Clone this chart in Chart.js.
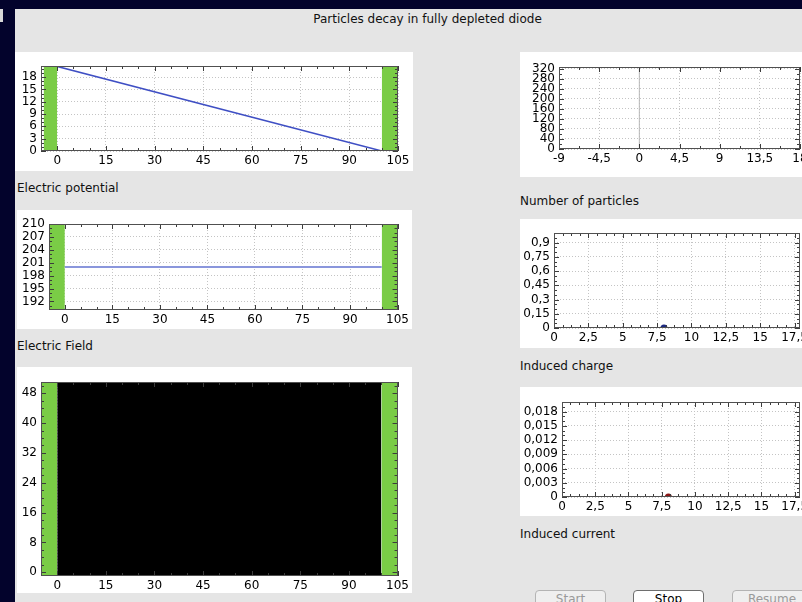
<!DOCTYPE html>
<html>
<head>
<meta charset="utf-8">
<script src="https://cdn.jsdelivr.net/npm/chart.js@4.4.1/dist/chart.umd.min.js"></script>
<style>
html,body{margin:0;padding:0;width:802px;height:602px;overflow:hidden;background:#03032c;font-family:"DejaVu Sans",sans-serif;}
#panel{position:absolute;left:15px;top:9px;width:840px;height:640px;background:#e5e5e5;}
#notch{position:absolute;left:0;top:9px;width:3px;height:13px;background:#d8d8d8;}
#title{position:absolute;left:15px;width:825px;top:12px;text-align:center;font-size:12px;color:#111;}
.box{position:absolute;background:#fff;}
.box canvas{display:block;}
.lbl{position:absolute;font-size:12px;color:#111;white-space:nowrap;}
.btn{position:absolute;top:590px;height:22px;box-sizing:border-box;border-radius:4px;font-size:12px;line-height:14px;text-align:center;padding-top:1px;}
.off{border:1px solid #b4b4b4;background:#efefef;color:#9a9a9a;}
.on{border:1px solid #6e6e6e;background:#fff;color:#000;}
</style>
</head>
<body>
<div id="notch"></div>
<div id="panel"></div>
<div id="title">Particles decay in fully depleted diode</div>

<div class="box" style="left:15px;top:52px"><canvas id="potChart"></canvas></div>
<div class="lbl" style="left:17px;top:181px">Electric potential</div>

<div class="box" style="left:17px;top:210px"><canvas id="fieldChart"></canvas></div>
<div class="lbl" style="left:17px;top:339px">Electric Field</div>

<div class="box" style="left:17px;top:367px"><canvas id="mapChart"></canvas></div>

<div class="box" style="left:520px;top:52px"><canvas id="partChart"></canvas></div>
<div class="lbl" style="left:520px;top:194px">Number of particles</div>

<div class="box" style="left:520px;top:219px"><canvas id="chargeChart"></canvas></div>
<div class="lbl" style="left:520px;top:359px">Induced charge</div>

<div class="box" style="left:520px;top:387px"><canvas id="currentChart"></canvas></div>
<div class="lbl" style="left:520px;top:527px">Induced current</div>

<div class="btn off" style="left:535px;width:71px">Start</div>
<div class="btn on" style="left:633px;width:71px">Stop</div>
<div class="btn off" style="left:732px;width:80px">Resume</div>

<script>
// diode geometry (x in um)
const depletedX = [0, 100];
const elecLeftPot = [-4.2, 0];
const elecLeft = [-5, 0];
const elecRight = [100, 105];

// electric potential
const potX = [0, 100];
const potV = [20.6, 0];
// electric field
const fieldX = [0, 100];
const fieldE = [200, 200];
// particles / induced signals vs time
const partT = [1.4, 8.1];
const partN = [1.5, 1.5];
const zeroT = [0, 0];
const chargeT = [8];
const chargeQ = [0];
const currentT = [8];
const currentI = [0];

// tick labels
const diodeTicks = [0, 15, 30, 45, 60, 75, 90, 105];
const potTicks = [0, 3, 6, 9, 12, 15, 18];
const fieldTicks = [192, 195, 198, 201, 204, 207, 210];
const mapTicks = [0, 8, 16, 24, 32, 40, 48];
const partXTicks = [-9, -4.5, 0, 4.5, 9, 13.5, 18];
const partYTicks = [0, 40, 80, 120, 160, 200, 240, 280, 320];
const timeTicks = [0, 2.5, 5, 7.5, 10, 12.5, 15, 17.5];
const chargeTicks = [0, 0.15, 0.3, 0.45, 0.6, 0.75, 0.9];
const currentTicks = [0, 0.003, 0.006, 0.009, 0.012, 0.015, 0.018];

const GREEN = '#7acc46';
Chart.defaults.font.family = 'DejaVu Sans';
Chart.defaults.font.size = 12;
Chart.defaults.color = '#000';

const pts = (xs, ys) => xs.map((x, i) => ({x: x, y: ys[i]}));
const comma = v => String(+Number(v).toFixed(4)).replace('.', ',');

// frame with inner major/minor ticks on all four sides
const framePlugin = {
  id: 'frame',
  afterDatasetsDraw(chart, args, opts) {
    const ctx = chart.ctx, a = chart.chartArea;
    const sx = chart.scales.x, sy = chart.scales.y;
    const marks = (sc, sub) => {
      const vals = sc.ticks.map(t => t.value);
      const out = vals.map(v => ({v: v, len: 5}));
      if (sub > 1 && vals.length > 1) {
        const step = vals[1] - vals[0], d = step / sub;
        for (let i = -sub; i <= (vals.length - 1) * sub + sub; i++) {
          if (i % sub === 0) continue;
          const v = vals[0] + i * d;
          if (v > sc.min && v < sc.max) out.push({v: v, len: 3});
        }
      }
      return out;
    };
    ctx.save();
    ctx.strokeStyle = '#3c3c3c';
    ctx.lineWidth = 1;
    ctx.beginPath();
    marks(sx, opts.mx).forEach(m => {
      const p = Math.round(sx.getPixelForValue(m.v)) + 0.5;
      ctx.moveTo(p, a.bottom); ctx.lineTo(p, a.bottom - m.len);
      ctx.moveTo(p, a.top); ctx.lineTo(p, a.top + m.len);
    });
    marks(sy, opts.my).forEach(m => {
      const p = Math.round(sy.getPixelForValue(m.v)) + 0.5;
      ctx.moveTo(a.left, p); ctx.lineTo(a.left + m.len, p);
      ctx.moveTo(a.right, p); ctx.lineTo(a.right - m.len, p);
    });
    ctx.stroke();
    ctx.strokeStyle = '#505050';
    ctx.strokeRect(Math.round(a.left) + 0.5, Math.round(a.top) + 0.5,
      Math.round(a.right - a.left) - 1, Math.round(a.bottom - a.top) - 1);
    ctx.restore();
  }
};

function band(xs, top, color) {
  return {data: pts(xs, [top, top]), showLine: true, fill: 'start',
    backgroundColor: color, borderWidth: 0, pointRadius: 0, order: 5};
}

function makeChart(id, box, plot, xr, yr, datasets, minor) {
  const cv = document.getElementById(id);
  cv.width = box.w; cv.height = box.h;
  cv.parentNode.style.width = box.w + 'px';
  cv.parentNode.style.height = box.h + 'px';
  const axis = (r, ticks, isX) => ({
    type: 'linear', min: r[0], max: r[1],
    afterBuildTicks: s => { s.ticks = ticks.map(v => ({value: v})); },
    afterFit: s => {
      if (isX) s.height = box.y + box.h - plot.b;
      else s.width = plot.l - box.x;
    },
    ticks: {autoSkip: false, maxRotation: 0, padding: isX ? 3 : 4, callback: comma,
      font: {size: 12}, color: '#000'},
    grid: {color: '#c4c4c4', lineWidth: 1, drawTicks: false},
    border: {display: false, dash: [1, 2]}
  });
  return new Chart(cv, {
    type: 'scatter',
    data: {datasets: datasets},
    options: {
      responsive: false, animation: false,
      layout: {padding: {left: 0, top: plot.t - box.y, right: box.x + box.w - plot.r, bottom: 0}},
      plugins: {legend: {display: false}, tooltip: {enabled: false}, frame: minor},
      scales: {x: axis(xr, xr[2], true), y: axis(yr, yr[2], false)}
    },
    plugins: [framePlugin]
  });
}

// Electric potential
makeChart('potChart', {x: 15, y: 52, w: 398, h: 119}, {l: 41, t: 66, r: 398, b: 151},
  [-5, 105, diodeTicks], [0, 20.7, potTicks], [
    band(elecLeftPot, 20.7, GREEN),
    band(elecRight, 20.7, GREEN),
    {data: pts(potX, potV), showLine: true, borderColor: '#3f4fc4', borderWidth: 1.5, pointRadius: 0, order: 1}
  ], {mx: 3, my: 3});

// Electric field
makeChart('fieldChart', {x: 17, y: 210, w: 395, h: 119}, {l: 49, t: 224, r: 398, b: 310},
  [-5, 105, diodeTicks], [190, 210, fieldTicks], [
    band(elecLeft, 210, GREEN),
    band(elecRight, 210, GREEN),
    {data: pts(fieldX, fieldE), showLine: true, borderColor: '#8a96dc', borderWidth: 2, pointRadius: 0, order: 1}
  ], {mx: 3, my: 3});

// particles map
makeChart('mapChart', {x: 17, y: 367, w: 395, h: 226}, {l: 41, t: 382, r: 398, b: 576},
  [-5, 105, diodeTicks], [-1, 51, mapTicks], [
    band(depletedX, 51, '#000000'),
    band(elecLeft, 51, GREEN),
    band(elecRight, 51, GREEN)
  ], {mx: 3, my: 4});

// Number of particles
makeChart('partChart', {x: 520, y: 52, w: 310, h: 125}, {l: 559, t: 67, r: 800, b: 149},
  [-9, 18, partXTicks], [0, 326, partYTicks], [
    {data: pts(zeroT, [0, 326]), showLine: true, borderColor: '#b8b8b8', borderWidth: 1, pointRadius: 0},
    {data: pts(partT, partN), showLine: true, borderColor: '#a05050', borderWidth: 1, pointRadius: 0}
  ], {mx: 2, my: 2});

// Induced charge
makeChart('chargeChart', {x: 520, y: 219, w: 310, h: 129}, {l: 554, t: 233, r: 800, b: 328},
  [0, 17.9, timeTicks], [0, 1, chargeTicks], [
    {data: pts(chargeT, chargeQ), pointRadius: 3.5, backgroundColor: '#1c2a80', borderWidth: 0}
  ], {mx: 4, my: 3});

// Induced current
makeChart('currentChart', {x: 520, y: 387, w: 310, h: 129}, {l: 562, t: 402, r: 800, b: 497},
  [0, 17.9, timeTicks], [0, 0.02, currentTicks], [
    {data: pts(currentT, currentI), pointRadius: 3.5, backgroundColor: '#8a1616', borderWidth: 0}
  ], {mx: 4, my: 3});
</script>
</body>
</html>
